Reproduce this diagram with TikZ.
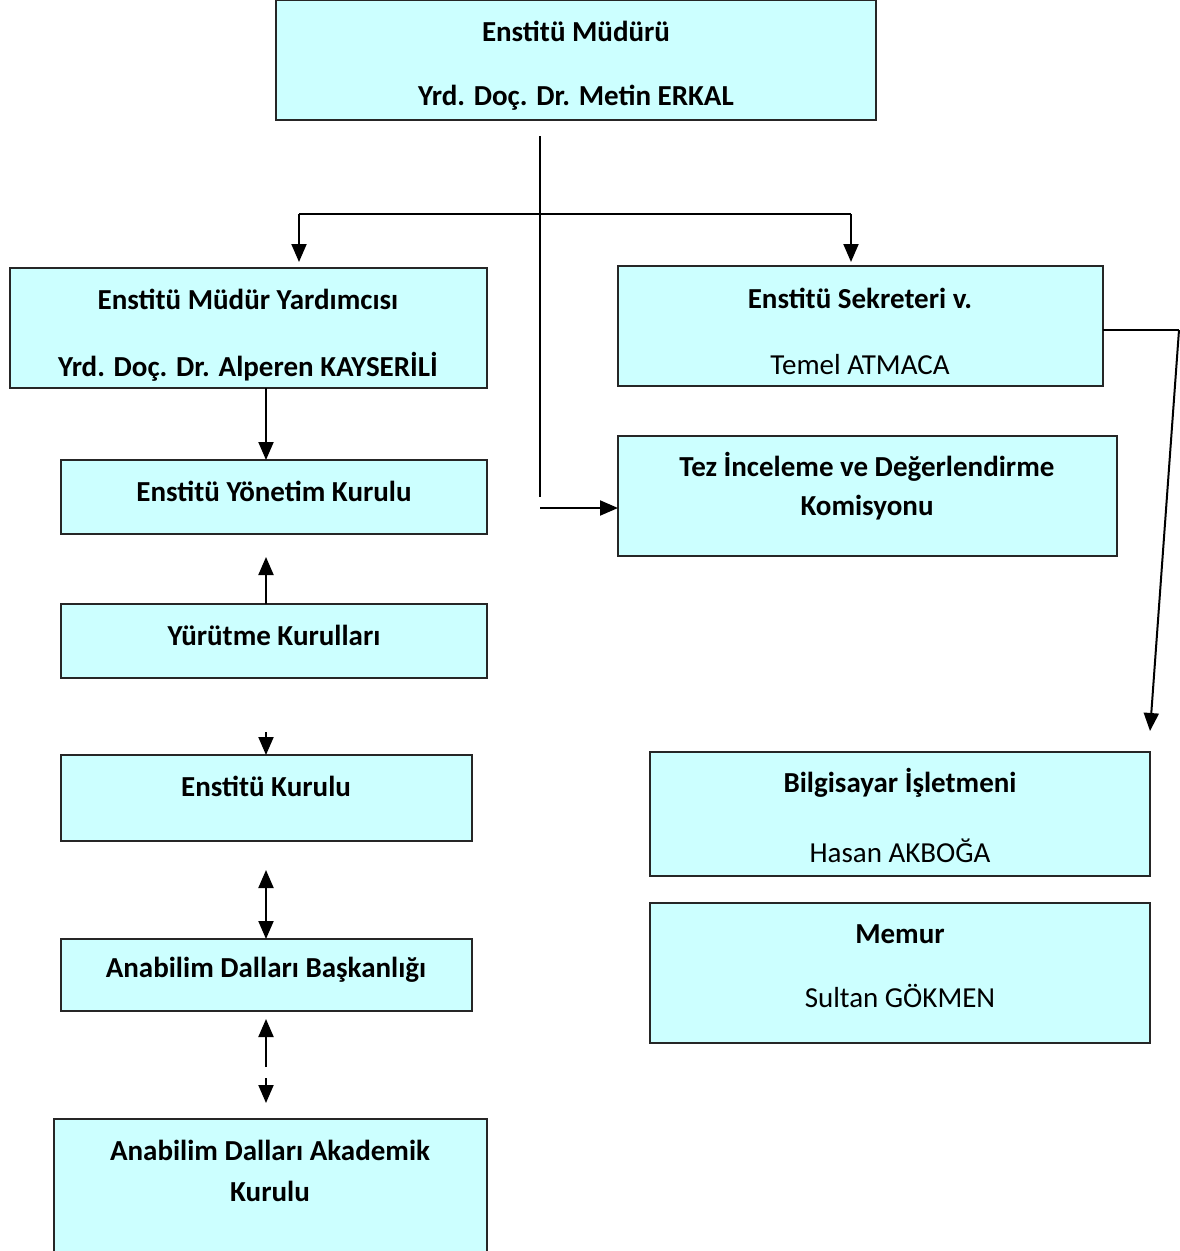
\documentclass[tikz,border=0pt]{standalone}
\usepackage{fontspec}
\setmainfont{Carlito}
\usetikzlibrary{arrows.meta}
\definecolor{boxfill}{HTML}{CCFFFF}
\begin{document}
\begin{tikzpicture}[x=1pt,y=-1pt,
  box/.style={draw=black!85, line width=1.4pt, fill=boxfill, rectangle, inner sep=0pt, outer sep=0pt},
  tb/.style={font=\fontsize{29}{33}\selectfont\bfseries, inner sep=0pt, anchor=center},
  tr/.style={font=\fontsize{29}{33}\selectfont, inner sep=0pt, anchor=center},
  conn/.style={line width=2pt, draw=black},
  arr/.style={conn, -{Triangle[width=15pt,length=18pt]}},
  darr/.style={conn, {Triangle[width=15pt,length=18pt]}-{Triangle[width=15pt,length=18pt]}}]
\useasboundingbox (0,0) rectangle (1179,1251);
\begin{scope}
\clip (0,0) rectangle (1179,1251);
% boxes
\node[box, minimum width=600, minimum height=120] (mud) at (576,60) {};
\node[box, minimum width=477, minimum height=120] (my) at (248.5,328) {};
\node[box, minimum width=485, minimum height=120] (sek) at (860.5,326) {};
\node[box, minimum width=426, minimum height=74] (yk) at (274,497) {};
\node[box, minimum width=499, minimum height=120] (tez) at (867.5,496) {};
\node[box, minimum width=426, minimum height=74] (yur) at (274,641) {};
\node[box, minimum width=411, minimum height=86] (ek) at (266.5,798) {};
\node[box, minimum width=411, minimum height=72] (adb) at (266.5,975) {};
\node[box, minimum width=433, minimum height=150] (ada) at (270.5,1194) {};
\node[box, minimum width=500, minimum height=124] (bil) at (900,814) {};
\node[box, minimum width=500, minimum height=140] (mem) at (900,973) {};
\end{scope}
% texts
\node[tb] (mudA) at (576,31) {Enstitü Müdürü};
\node[tb] (mudB) at (576,98) {Yrd. Doç. Dr. Metin ERKAL};
\node[tb] (myA) at (248,299) {Enstitü Müdür Yardımcısı};
\node[tb] (myB) at (248,367) {Yrd. Doç. Dr. Alperen KAYSERİLİ};
\node[tb] (sekA) at (860,298) {Enstitü Sekreteri v.};
\node[tr] (sekB) at (860,365) {Temel ATMACA};
\node[tb] (ykA) at (274,491) {Enstitü Yönetim Kurulu};
\node[tb] (tezA) at (867,467) {Tez İnceleme ve Değerlendirme};
\node[tb] (tezB) at (867,508) {Komisyonu};
\node[tb] (yurA) at (274,635) {Yürütme Kurulları};
\node[tb] (ekA) at (266,786) {Enstitü Kurulu};
\node[tb] (adbA) at (266,970) {Anabilim Dalları Başkanlığı};
\node[tb] (adaA) at (270,1150) {Anabilim Dalları Akademik};
\node[tb] (adaB) at (270,1191) {Kurulu};
\node[tb] (bilA) at (900,783) {Bilgisayar İşletmeni};
\node[tr] (bilB) at (900,851) {Hasan AKBOĞA};
\node[tb] (memA) at (900,934) {Memur};
\node[tr] (memB) at (900,996) {Sultan GÖKMEN};
% connectors
\coordinate (s0) at (540,136);
\coordinate (s1) at (540,497);
\coordinate (s2) at (540,508);
\coordinate (hL) at (299,214);
\coordinate (hR) at (851,214);
\draw[conn] (s0) -- (s1);
\draw[conn] (hL) -- (hR);
\draw[arr] (hL) -- ([yshift=6pt]hL |- my.north);
\draw[arr] (hR) -- ([yshift=4pt]hR |- sek.north);
\draw[arr] (s2) -- (s2 -| tez.west);
\coordinate (c266) at (266,0);
\draw[arr] (c266 |- my.south) -- (c266 |- yk.north);
\draw[arr] (c266 |- yur.north) -- ([yshift=-23pt]c266 |- yk.south);
\coordinate (e0) at (266,732);
\draw[arr] (e0) -- (e0 |- ek.north);
\coordinate (e1) at (266,870);
\draw[darr] (e1) -- (e1 |- adb.north);
\coordinate (e2) at (266,1067);
\draw[arr] (e2) -- ([yshift=-8pt]e2 |- adb.south);
\coordinate (e3) at (266,1078);
\coordinate (e4) at (266,1103);
\draw[arr] (e3) -- (e4);
\coordinate (r0) at (1179,330);
\coordinate (r1) at (1150,731);
\draw[conn] ([yshift=-4pt]sek.east) -- (r0);
\draw[arr] (r0) -- (r1);
\end{tikzpicture}
\end{document}
